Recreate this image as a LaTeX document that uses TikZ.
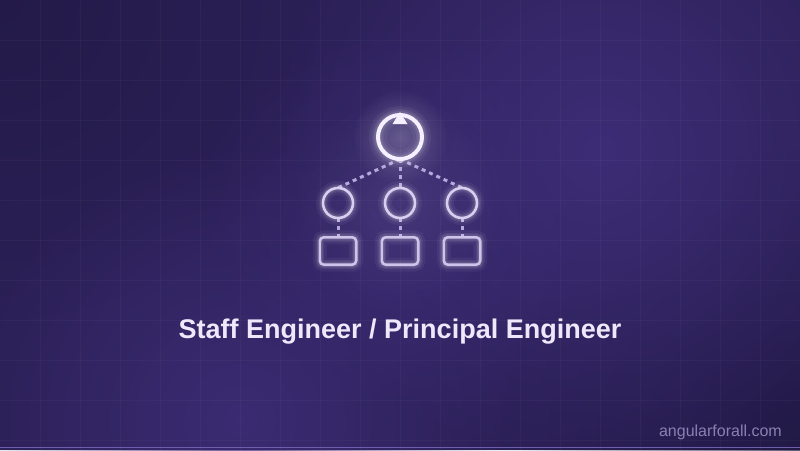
\documentclass[tikz,border=0pt]{standalone}
\usepackage{fontspec}
\setmainfont{Liberation Sans}
\usetikzlibrary{fadings}
\definecolor{bgbase}{HTML}{2B2056}
\definecolor{bgglow}{HTML}{3F2E7A}
\definecolor{bgdark}{HTML}{1E1740}
\definecolor{ringcol}{HTML}{F4F0FF}
\definecolor{nodecol}{HTML}{D8CFF0}
\definecolor{boxcol}{HTML}{CEC3EA}
\definecolor{dashcol}{HTML}{B5A8DC}
\definecolor{titlecol}{HTML}{EEE8FA}
\definecolor{footcol}{HTML}{8B80B2}
\definecolor{linecol}{HTML}{6E5EAC}
\tikzfading[name=softglow, inner color=transparent!0, outer color=transparent!100]
\tikzset{
  glowA/.style={draw=white, opacity=0.05, line width=14pt},
  glowB/.style={draw=white, opacity=0.07, line width=9pt},
  glowC/.style={draw=white, opacity=0.10, line width=6pt},
  ringst/.style={draw=ringcol, line width=4pt},
  midst/.style={draw=nodecol, line width=2.6pt},
  boxst/.style={draw=boxcol, line width=2.6pt, rounded corners=4pt},
  dashst/.style={draw=dashcol, line width=3pt, dash pattern=on 4pt off 4pt},
  gridst/.style={draw=white, opacity=0.03, line width=1pt}
}
\begin{document}
\begin{tikzpicture}[x=1pt,y=-1pt]
\useasboundingbox (0,0) rectangle (800,450);
% background
\fill[bgbase] (0,0) rectangle (800,450);
\begin{scope}
\clip (0,0) rectangle (800,450);
\fill[bgdark, path fading=softglow, opacity=0.6] (0,0) circle (320);
\fill[bgdark, path fading=softglow, opacity=0.7] (800,450) circle (300);
\fill[bgglow, path fading=softglow, opacity=0.9] (600,150) circle (330);
\fill[bgglow, path fading=softglow, opacity=0.8] (240,420) circle (280);
\fill[bgglow, path fading=softglow, opacity=0.6] (400,220) circle (200);
% grid
\foreach \gx in {40,80,...,760} \draw[gridst] (\gx,0) -- (\gx,450);
\foreach \gy in {40,80,...,440} \draw[gridst] (0,\gy) -- (800,\gy);
\end{scope}
\draw[linecol, line width=1.2pt] (0,447.5) -- (800,447.5);
% glow haze round the icon
\fill[white, path fading=softglow, opacity=0.06] (400,200) circle (110);
\fill[white, path fading=softglow, opacity=0.22] (400,137) circle (48);
% nodes
\node[circle, minimum size=44pt, inner sep=0pt] (top) at (400,137) {};
\node[circle, minimum size=30pt, inner sep=0pt] (m1) at (338,203) {};
\node[circle, minimum size=30pt, inner sep=0pt] (m2) at (400,203) {};
\node[circle, minimum size=30pt, inner sep=0pt] (m3) at (462,203) {};
\node[rectangle, minimum width=36pt, minimum height=27pt, inner sep=0pt] (b1) at (338,251) {};
\node[rectangle, minimum width=36pt, minimum height=27pt, inner sep=0pt] (b2) at (400,251) {};
\node[rectangle, minimum width=36pt, minimum height=27pt, inner sep=0pt] (b3) at (462,251) {};
% dashed connectors
\draw[dashst] (top.south) -- (m1.north);
\draw[dashst] (top.south) -- (m2.north);
\draw[dashst] (top.south) -- (m3.north);
\draw[dashst] (m1.south) -- (b1.north);
\draw[dashst] (m2.south) -- (b2.north);
\draw[dashst] (m3.south) -- (b3.north);
% glows
\foreach \n in {m1,m2,m3} {
  \draw[glowA] (\n.center) circle (15);
  \draw[glowB] (\n.center) circle (15);
  \draw[glowC] (\n.center) circle (15);
}
\foreach \n in {b1,b2,b3} {
  \draw[glowA, rounded corners=4pt] (\n.south west) rectangle (\n.north east);
  \draw[glowB, rounded corners=4pt] (\n.south west) rectangle (\n.north east);
  \draw[glowC, rounded corners=4pt] (\n.south west) rectangle (\n.north east);
}
\draw[glowA, line width=18pt] (top.center) circle (22);
\draw[glowB, line width=12pt] (top.center) circle (22);
\draw[glowC, line width=8pt] (top.center) circle (22);
% shapes
\foreach \n in {m1,m2,m3} \draw[midst] (\n.center) circle (15);
\foreach \n in {b1,b2,b3} \draw[boxst] (\n.south west) rectangle (\n.north east);
\draw[ringst] (top.center) circle (22);
\fill[ringcol] (400,112) -- (407.5,124) -- (392.5,124) -- cycle;
% texts
\node[anchor=base, text=titlecol, font=\fontsize{27}{32}\selectfont\bfseries, inner sep=0pt] (title) at (400,338) {Staff Engineer / Principal Engineer};
\node[anchor=base east, text=footcol, font=\fontsize{16}{19}\selectfont, inner sep=0pt] (foot) at (782,436) {angularforall.com};
\end{tikzpicture}
\end{document}
